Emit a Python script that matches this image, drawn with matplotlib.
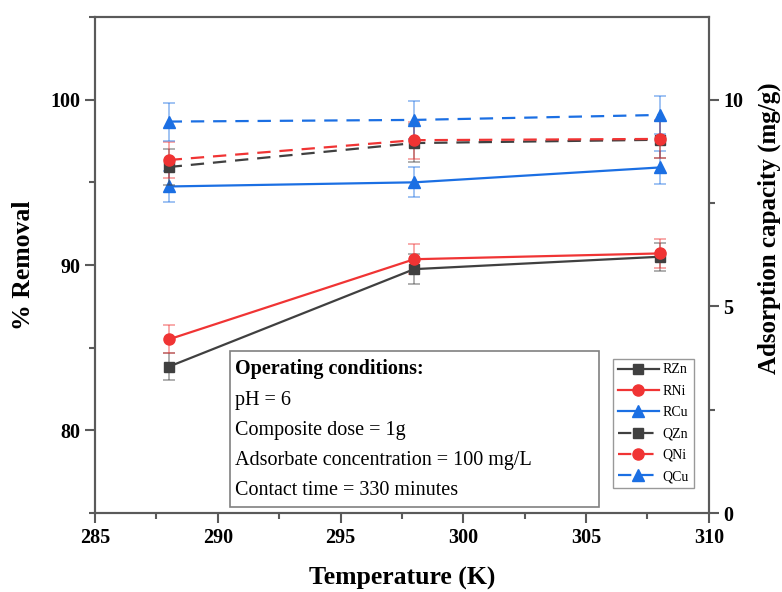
import matplotlib
matplotlib.use("Agg")
import matplotlib.pyplot as plt
from matplotlib.patches import Rectangle
from matplotlib.ticker import MultipleLocator

plt.rcParams['font.family'] = ['Liberation Serif', 'DejaVu Serif']

# Temperatures (K)
temperature = [288, 298, 308]

# % Removal (left axis)
r_zn = [83.85, 89.75, 90.50]
r_ni = [85.50, 90.35, 90.70]
r_cu = [94.75, 95.00, 95.90]
r_zn_err = [0.80, 0.90, 0.85]
r_ni_err = [0.85, 0.90, 0.90]
r_cu_err = [0.95, 0.90, 1.00]

# Adsorption capacity, mg/g (right axis)
q_zn = [8.37, 8.95, 9.03]
q_ni = [8.54, 9.02, 9.05]
q_cu = [9.47, 9.51, 9.63]
q_zn_err = [0.43, 0.45, 0.45]
q_ni_err = [0.43, 0.45, 0.45]
q_cu_err = [0.46, 0.45, 0.45]

labels = ['RZn', 'RNi', 'RCu', 'QZn', 'QNi', 'QCu']

GRAY = '#404040'
RED = '#f03434'
BLUE = '#1b6fe3'
SPINE = '#5a5a5a'

fig = plt.figure(figsize=(7.82, 5.92), dpi=100)
ax = fig.add_axes([0.1215, 0.1334, 0.785, 0.8379])
ax2 = ax.twinx()


def series(axis, y, err, color, marker, ms, ls, label):
    axis.errorbar(temperature, y, yerr=err, fmt='none', ecolor=color, alpha=0.45,
                  elinewidth=1.3, capsize=4, capthick=1.3, zorder=2)
    line, = axis.plot(temperature, y, color=color, marker=marker, markersize=ms,
                      linestyle=ls, linewidth=1.6, label=label, zorder=3)
    if ls != '-':
        line.set_dashes([6, 4])
    return line


handles = [
    series(ax, r_zn, r_zn_err, GRAY, 's', 7.5, '-', labels[0]),
    series(ax, r_ni, r_ni_err, RED, 'o', 8, '-', labels[1]),
    series(ax, r_cu, r_cu_err, BLUE, '^', 9, '-', labels[2]),
    series(ax2, q_zn, q_zn_err, GRAY, 's', 7.5, '--', labels[3]),
    series(ax2, q_ni, q_ni_err, RED, 'o', 8, '--', labels[4]),
    series(ax2, q_cu, q_cu_err, BLUE, '^', 9, '--', labels[5]),
]

ax.set_xlim(285, 310)
ax.set_ylim(75, 105)
ax2.set_ylim(0, 12)

ax.xaxis.set_major_locator(MultipleLocator(5))
ax.xaxis.set_minor_locator(MultipleLocator(2.5))
ax.yaxis.set_major_locator(MultipleLocator(10))
ax.yaxis.set_minor_locator(MultipleLocator(5))
ax2.yaxis.set_major_locator(MultipleLocator(5))
ax2.yaxis.set_minor_locator(MultipleLocator(2.5))

for a in (ax, ax2):
    for s in a.spines.values():
        s.set_color(SPINE)
        s.set_linewidth(1.5)
    a.tick_params(which='major', direction='out', length=7, width=1.5, color=SPINE,
                  labelsize=14.5)
    a.tick_params(which='minor', direction='out', length=4, width=1.5, color=SPINE)
    for t in a.get_xticklabels() + a.get_yticklabels():
        t.set_fontweight('bold')

ax.set_xlabel('Temperature (K)', fontsize=18.5, fontweight='bold')
ax.xaxis.set_label_coords(0.5, -0.108)
ax.set_ylabel('% Removal', fontsize=18.5, fontweight='bold')
ax.yaxis.set_label_coords(-0.097, 0.5)
ax2.set_ylabel('Adsorption capacity (mg/g)', fontsize=18, fontweight='bold')
ax2.yaxis.set_label_coords(1.08, 0.575)

ax2.legend(handles=handles, loc='lower right', bbox_to_anchor=(0.9756, 0.0504),
           fontsize=10, frameon=True, fancybox=False, edgecolor='#808080',
           handlelength=2.9, labelspacing=0.6, borderpad=0.35, handletextpad=0.3,
           borderaxespad=0)

# Operating conditions panel
ax2.add_patch(Rectangle((0.22, 0.013), 0.601, 0.314, transform=ax2.transAxes,
                        facecolor='white', edgecolor='#808080', linewidth=1.2, zorder=5))
ax2.text(0.228, 0.29, 'Operating conditions:', transform=ax2.transAxes,
         fontsize=14.5, fontweight='bold', va='center', zorder=6)
conditions = ['pH = 6', 'Composite dose = 1g',
              'Adsorbate concentration = 100 mg/L', 'Contact time = 330 minutes']
for i, txt in enumerate(conditions):
    ax2.text(0.228, 0.226 - i * 0.0605, txt, transform=ax2.transAxes,
             fontsize=14.5, va='center', zorder=6)

fig.savefig('out.png', dpi=100)
